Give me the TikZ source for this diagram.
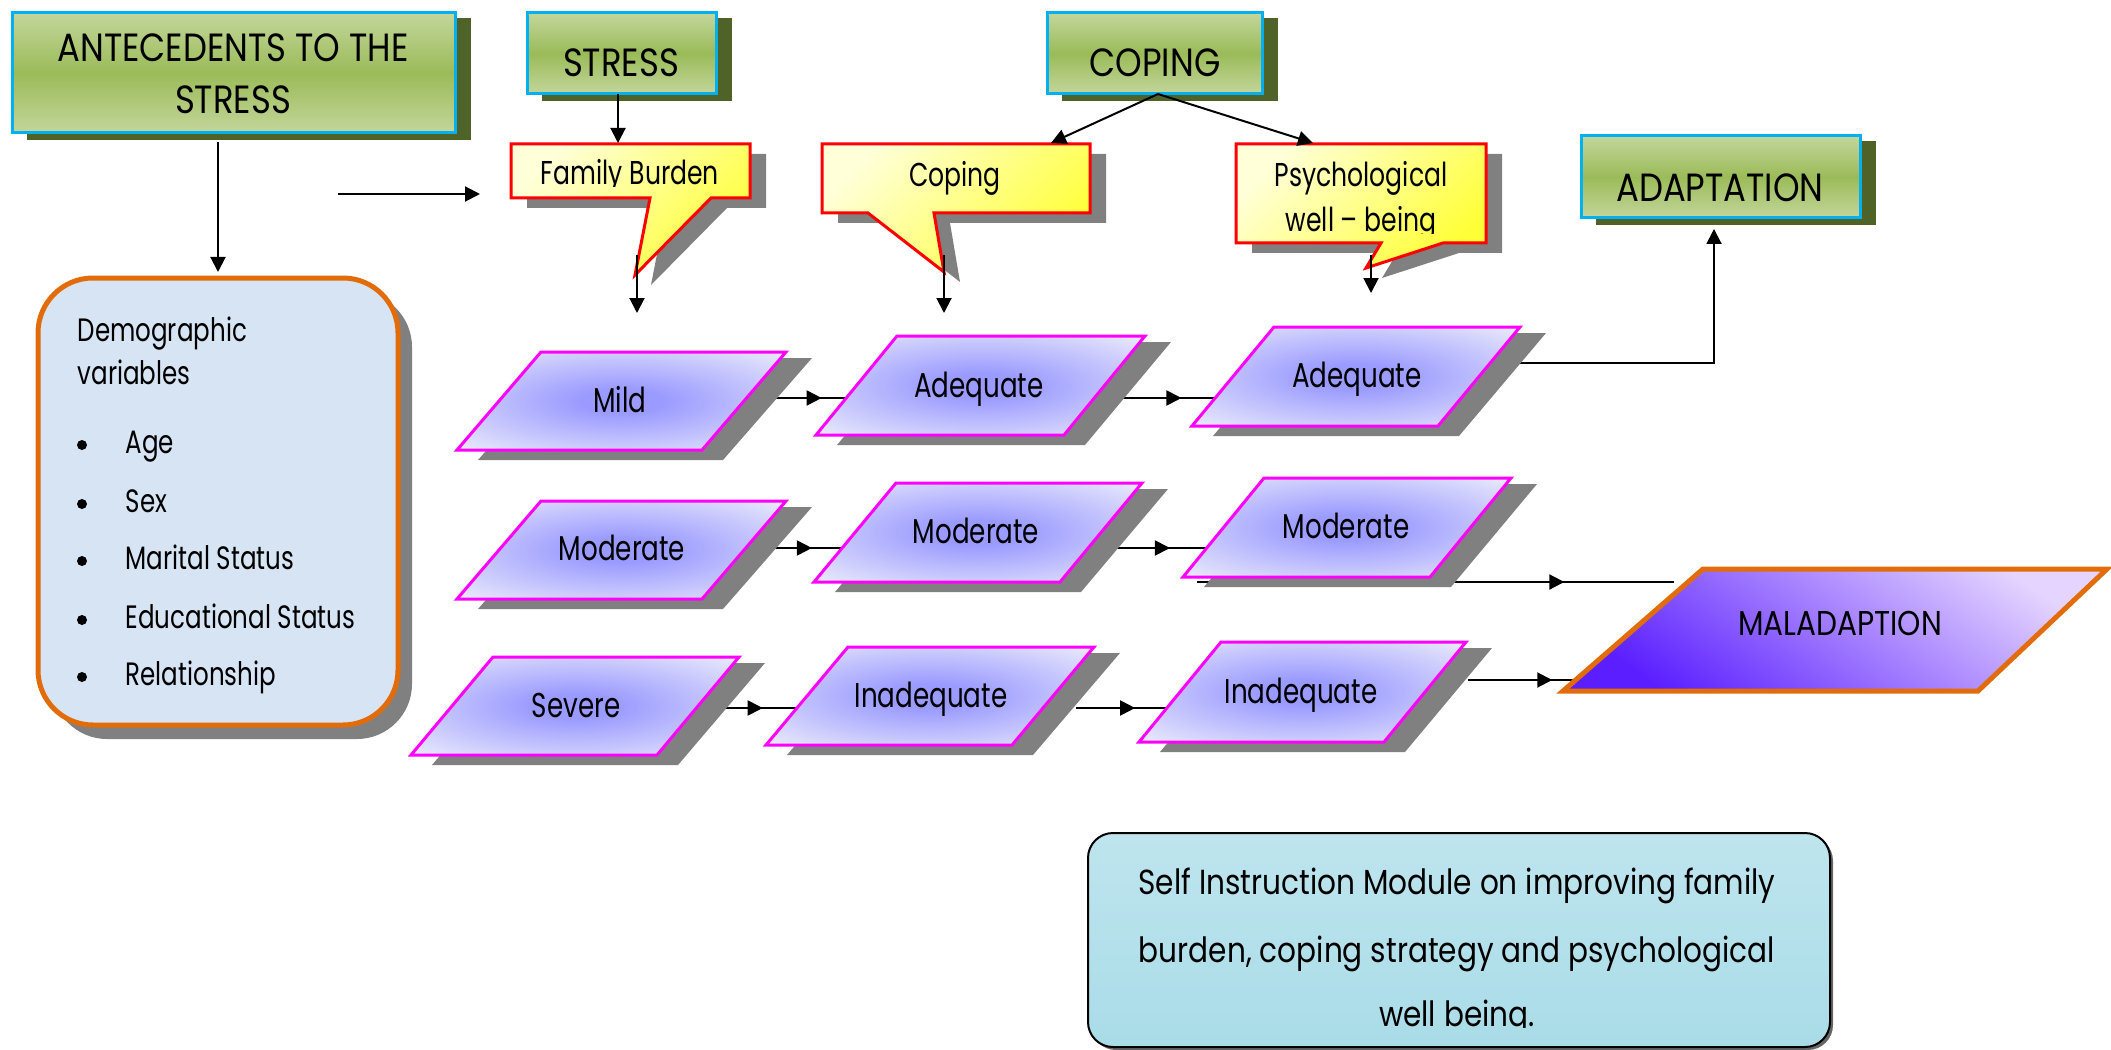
\documentclass[tikz,border=0pt]{standalone}
\usepackage{fontspec}
\setmainfont{Poppins}[FakeStretch=0.76]
\newfontfamily\capsfont{Poppins}[FakeStretch=0.86]
\newfontfamily\widefont{Poppins}[FakeStretch=0.85]
\usetikzlibrary{arrows.meta,decorations.markings,shadings}
\definecolor{boxblue}{HTML}{00B0F0}
\definecolor{olivesh}{HTML}{4F6228}
\definecolor{glight}{HTML}{C3D69B}
\definecolor{gmid}{HTML}{9BBB59}
\definecolor{shgray}{HTML}{808080}
\definecolor{cred}{HTML}{FF0000}
\definecolor{ylight}{HTML}{FFFFD8}
\definecolor{ystrong}{HTML}{FFFF38}
\definecolor{mag}{HTML}{FF00FF}
\definecolor{pin}{HTML}{9A9AFF}
\definecolor{pout}{HTML}{EDEDFC}
\definecolor{orng}{HTML}{E36C0A}
\definecolor{demfill}{HTML}{D6E4F4}
\definecolor{selffill}{HTML}{A9DCE8}
\definecolor{maldark}{HTML}{5B1FFF}
\definecolor{mallight}{HTML}{E4D4FF}
\pgfdeclareradialshading{parashade}{\pgfpoint{0bp}{0bp}}{color(0bp)=(pin); color(6bp)=(pin); color(36bp)=(pout); color(50bp)=(pout)}

\newcommand\grbox[4]{%
  \fill[olivesh] ({#1+15},{#2+5}) rectangle ({#3+16},{#4+7});
  \shadedraw[top color=glight, bottom color=glight, middle color=gmid, draw=boxblue, line width=0.3mm] (#1,#2) rectangle (#3,#4);}
\newcommand\callout[8]{%
  \fill[shgray] ({#1+16},{#2+10}) -- ({#3+16},{#2+10}) -- ({#3+16},{#4+10}) -- ({#8+16},{#4+10}) -- ({#6+16},{#7+10}) -- ({#5+16},{#4+10}) -- ({#1+16},{#4+10}) -- cycle;
  \shadedraw[top color=ylight, bottom color=ystrong, shading angle=45, draw=cred, line width=0.3mm] (#1,#2) -- (#3,#2) -- (#3,#4) -- (#8,#4) -- (#6,#7) -- (#5,#4) -- (#1,#4) -- cycle;}
\newcommand\mypara[5]{%
  \fill[shgray] ({#1+26},{#2+6}) -- ({#1+#5+26},{#2+6}) -- ({#3+#5+21},{#4+10}) -- ({#3+21},{#4+10}) -- cycle;
  \shadedraw[shading=parashade, draw=mag, line width=0.3mm] (#1,#2) -- ({#1+#5},#2) -- ({#3+#5},#4) -- (#3,#4) -- cycle;}

\tikzset{
  conn/.style={draw=black, line width=0.2mm},
  arr/.style={conn, -{Triangle[length=1.5mm,width=1.5mm]}},
  midarr/.style={conn, postaction={decorate}, decoration={markings, mark=at position #1 with {\arrow{Triangle[length=1.5mm,width=1.5mm]}}}},
  hdr/.style={font=\capsfont\fontsize{11.2}{13}\selectfont, inner sep=0pt, anchor=base},
  body/.style={font=\fontsize{9.8}{11}\selectfont, inner sep=0pt, anchor=base},
  demtxt/.style={font=\fontsize{9.2}{11}\selectfont, inner sep=0pt, anchor=base west},
  calltxt/.style={font=\fontsize{9.4}{10}\selectfont, inner sep=0pt, anchor=base},
  maltxt/.style={font=\capsfont\fontsize{9.8}{10}\selectfont, inner sep=0pt, anchor=base},
  selftxt/.style={font=\widefont\fontsize{9.9}{10}\selectfont, inner sep=0pt, anchor=base},
}

\begin{document}
\begin{tikzpicture}[x=0.1mm,y=-0.1mm]
\useasboundingbox (0,0) rectangle (2111,1050);

% ---------- named connector ends ----------
\coordinate (antB) at (218,142);
\coordinate (demT) at (218,272);
\coordinate (freeS) at (338,194);
\coordinate (freeE) at (480,194);
\coordinate (stressB) at (618,94);
\coordinate (famT) at (618,143);
\coordinate (copB) at (1158,94);
\coordinate (copcT) at (1051,143);
\coordinate (psyT) at (1313,143);
\coordinate (famTip) at (637,255);
\coordinate (famD) at (637,313);
\coordinate (copTip) at (944,255);
\coordinate (copD) at (944,313);
\coordinate (psyTip) at (1371,255);
\coordinate (psyD) at (1371,293);
\coordinate (mildO) at (762,398);
\coordinate (adeqAI) at (846,398);
\coordinate (adeqAO) at (1120,398);
\coordinate (adeqBI) at (1216,398);
\coordinate (adeqBO) at (1520,363);
\coordinate (bend) at (1714,363);
\coordinate (adaptB) at (1714,229);
\coordinate (modAO) at (772,548);
\coordinate (modBI) at (842,548);
\coordinate (modBO) at (1112,548);
\coordinate (modCI) at (1207,548);
\coordinate (modCO) at (1197,582);
\coordinate (malI) at (1674,582);
\coordinate (sevO) at (724,708);
\coordinate (inadAI) at (797,708);
\coordinate (inadAO) at (1076,708);
\coordinate (inadBI) at (1167,708);
\coordinate (inadBO) at (1468,680);
\coordinate (malI2) at (1576,680);

% ---------- connectors under shapes ----------
\draw[midarr=0.71] (mildO) -- (adeqAI);
\draw[midarr=0.64] (adeqAO) -- (adeqBI);
\draw[midarr=0.57] (modAO) -- (modBI);
\draw[midarr=0.61] (modBO) -- (modCI);
\draw[midarr=0.77] (modCO) -- (malI);
\draw[midarr=0.53] (sevO) -- (inadAI);
\draw[midarr=0.65] (inadAO) -- (inadBI);
\draw[midarr=0.78] (inadBO) -- (malI2);
\draw[arr] (adeqBO) -- (bend) -- (adaptB);

% ---------- header boxes ----------
\grbox{12}{13}{455}{133}
\grbox{527}{13}{716}{94}
\grbox{1047}{13}{1262}{94}
\grbox{1581}{136}{1860}{218}

% ---------- callouts ----------
\callout{511}{144}{750}{198}{650}{635}{275}{711}
\callout{822}{144}{1090}{213}{868}{944}{272}{934}
\callout{1236}{144}{1486}{243}{1381}{1366}{268}{1443}

% ---------- demographic box ----------
\fill[shgray, rounded corners=5.5mm] (52,292) rectangle (412,739);
\filldraw[fill=demfill, draw=orng, line width=0.5mm, rounded corners=5.5mm] (38,278) rectangle (398,725);

% ---------- parallelograms ----------
\mypara{541}{352}{457}{450}{245}
\mypara{541}{501}{457}{599}{245}
\mypara{493}{657}{411}{755}{246}
\mypara{897}{336}{816}{435}{248}
\mypara{896}{483}{814}{582}{246}
\mypara{848}{647}{766}{745}{246}
\mypara{1274}{327}{1192}{426}{246}
\mypara{1264}{478}{1183}{577}{247}
\mypara{1221}{642}{1139}{742}{245}
\shadedraw[top color=mallight, bottom color=maldark, shading angle=-35, draw=orng, line width=0.5mm]
  (1703,569) -- (2107,569) -- (1978,691) -- (1563,691) -- cycle;

% ---------- self instruction box ----------
\fill[black!60, rounded corners=2.5mm] (1091,836) rectangle (1833,1050);
\filldraw[top color=selffill!75!white, bottom color=selffill, draw=black, line width=0.2mm, rounded corners=2.5mm] (1088,833) rectangle (1830,1047);

% ---------- texts ----------
\node[hdr] (ant1) at (233,62) {ANTECEDENTS TO THE};
\node[hdr] (ant2) at (233,114) {STRESS};
\node[hdr] (stress) at (621,77) {STRESS};
\node[hdr] (coping) at (1155,77) {COPING};
\node[hdr] (adapt) at (1720,202) {ADAPTATION};
\begin{scope}
  \clip (500,140) rectangle (760,186.5);
  \node[calltxt] (famtxt) at (630,185) {Family Burden};
\end{scope}
\node[calltxt] (coptxt) at (955,187) {Coping};
\node[calltxt] (psy1) at (1361,187) {Psychological};
\begin{scope}
  \clip (1230,195) rectangle (1490,233.5);
  \node[calltxt] (psy2) at (1361,232) {well – being};
\end{scope}

\node[demtxt] (dem1) at (77,341) {Demographic};
\node[demtxt] (dem2) at (77,385) {variables};
\node[demtxt] (age) at (125,453) {Age};
\node[demtxt] (sex) at (125,512) {Sex};
\node[demtxt] (mar) at (125,569) {Marital Status};
\node[demtxt] (edu) at (125,628) {Educational Status};
\node[demtxt] (rel) at (125,685) {Relationship};
\foreach \yy in {445,504,561,620,677} \fill (82,\yy) circle (0.5mm);

\node[body] (mild) at (620,412) {Mild};
\node[body] (adeqA) at (979,397) {Adequate};
\node[body] (adeqB) at (1357,387) {Adequate};
\node[body] (modA) at (622,560) {Moderate};
\node[body] (modB) at (976,543) {Moderate};
\node[body] (modC) at (1346,538) {Moderate};
\node[body] (sev) at (576,717) {Severe};
\node[body] (inadA) at (931,707) {Inadequate};
\node[body] (inadB) at (1301,703) {Inadequate};
\node[maltxt] (mal) at (1840,635) {MALADAPTION};

\node[selftxt] (self1) at (1457,894) {Self Instruction Module on improving family};
\node[selftxt] (self2) at (1457,962) {burden, coping strategy and psychological};
\begin{scope}
  \clip (1100,990) rectangle (1820,1027.5);
  \node[selftxt] (self3) at (1457,1026) {well being.};
\end{scope}

% ---------- connectors on top ----------
\draw[arr] (antB) -- (demT);
\draw[arr] (freeS) -- (freeE);
\draw[arr] (stressB) -- (famT);
\draw[arr] (copB) -- (copcT);
\draw[arr] (copB) -- (psyT);
\draw[arr] (famTip) -- (famD);
\draw[arr] (copTip) -- (copD);
\draw[arr] (psyTip) -- (psyD);
\end{tikzpicture}
\end{document}
